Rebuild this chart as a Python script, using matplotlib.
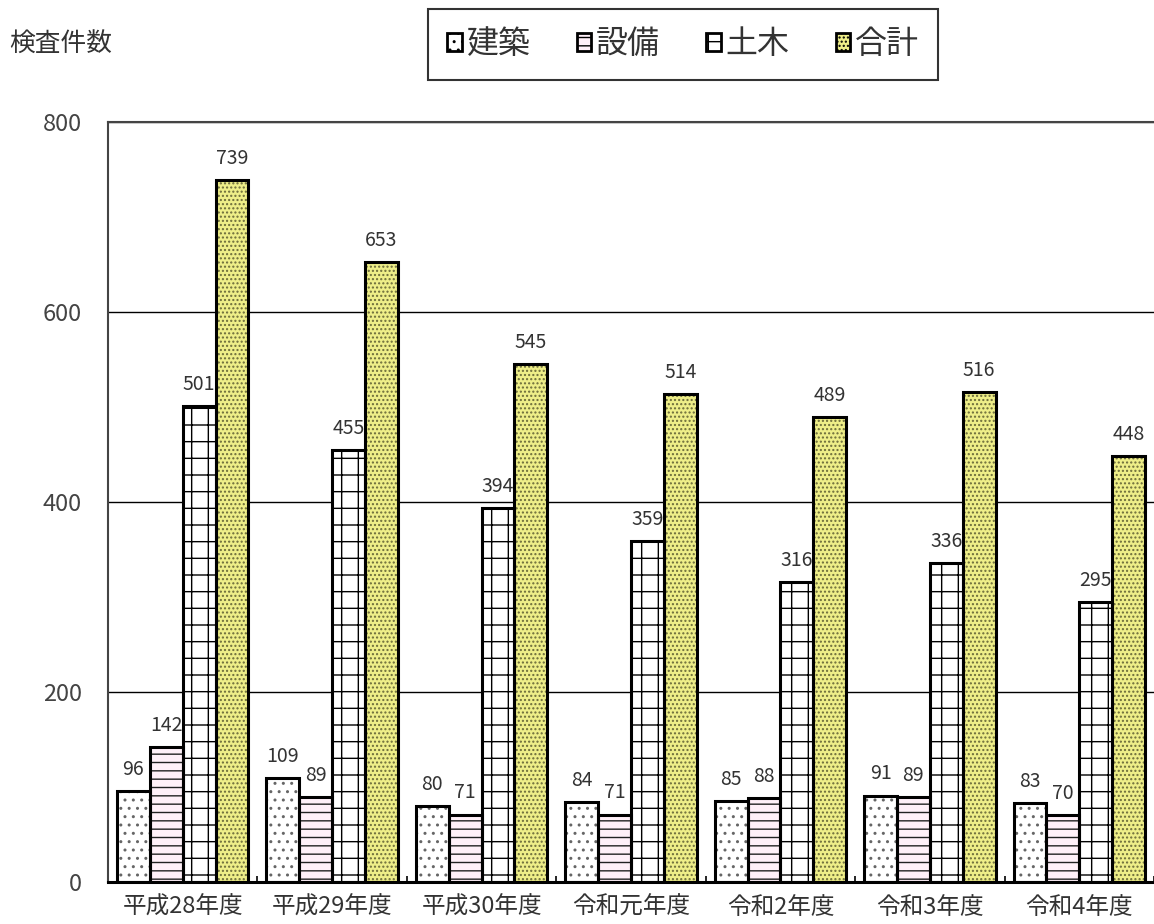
import matplotlib
matplotlib.use('Agg')
import matplotlib.pyplot as plt
from matplotlib.patches import Patch
import numpy as np

plt.rcParams['font.family'] = ['Noto Sans CJK JP', 'DejaVu Sans']
plt.rcParams['hatch.linewidth'] = 1.0

years = ['平成28年度', '平成29年度', '平成30年度', '令和元年度', '令和2年度', '令和3年度', '令和4年度']
series = ['建築', '設備', '土木', '合計']
kenchiku = [96, 109, 80, 84, 85, 91, 83]
setsubi = [142, 89, 71, 71, 88, 89, 70]
doboku = [501, 455, 394, 359, 316, 336, 295]
goukei = [739, 653, 545, 514, 489, 516, 448]
values = [kenchiku, setsubi, doboku, goukei]

# look of each series: face, hatch, hatch colour
faces = ['white', '#fff0f8', 'white', '#eeee88']
hatches = ['..', '--', '+', '....']
hatch_cols = ['#666666', '#222222', 'black', '#6b6b3a']

fig = plt.figure(figsize=(11.54, 9.24), dpi=100)
ax = fig.add_axes([0.0936, 0.0455, 0.9064, 0.8225])

x = np.arange(len(years))
w = 0.22
for i, vals in enumerate(values):
    pos = x + (i - 1.5) * w
    # hatch layer
    ax.bar(pos, vals, w, color=faces[i], hatch=hatches[i],
           edgecolor=hatch_cols[i], linewidth=0, zorder=2)
    # outline layer
    ax.bar(pos, vals, w, facecolor='none', edgecolor='black',
           linewidth=2.2, zorder=3)
    for p, v in zip(pos, vals):
        ax.annotate(str(v), (p, v), xytext=(0, 8), textcoords='offset points',
                    ha='center', va='bottom', fontsize=14, color='#333333')

ax.set_xlim(-0.5, len(years) - 0.5)
ax.set_ylim(0, 800)
ax.set_yticks([0, 200, 400, 600, 800])
ax.set_xticks(x)
ax.set_xticklabels(years, fontsize=17, color='#333333')
ax.set_xticks(np.arange(len(years) + 1) - 0.5, minor=True)
ax.tick_params(axis='x', which='major', length=0, pad=10)
ax.tick_params(axis='x', which='minor', direction='in', length=4, width=1.2)
ax.tick_params(axis='y', length=0, pad=19, labelsize=17, labelcolor='#444444')
ax.yaxis.grid(True, color='black', linewidth=1.0, zorder=0)
ax.set_axisbelow(True)

ax.spines['right'].set_visible(False)
ax.spines['top'].set_color('#444444')
ax.spines['top'].set_linewidth(1.5)
ax.spines['left'].set_color('#444444')
ax.spines['left'].set_linewidth(1.5)
ax.spines['bottom'].set_linewidth(2.2)

fig.text(0.008, 0.953, '検査件数', fontsize=18.5, va='center', ha='left', color='#333333')

handles = [Patch(facecolor=faces[i], hatch=hatches[i], edgecolor='black', linewidth=2)
           for i in range(4)]
leg = fig.legend(handles, series, loc='center', bbox_to_anchor=(0.592, 0.952),
                 ncol=4, fontsize=23, frameon=True, fancybox=False,
                 handlelength=0.45, handleheight=0.45, handletextpad=0.15,
                 columnspacing=1.45, borderpad=0.6, borderaxespad=0,
                 edgecolor='black')
leg.get_frame().set_linewidth(1.5)
for t in leg.get_texts():
    t.set_color('#333333')

fig.savefig('out.png', dpi=100)
